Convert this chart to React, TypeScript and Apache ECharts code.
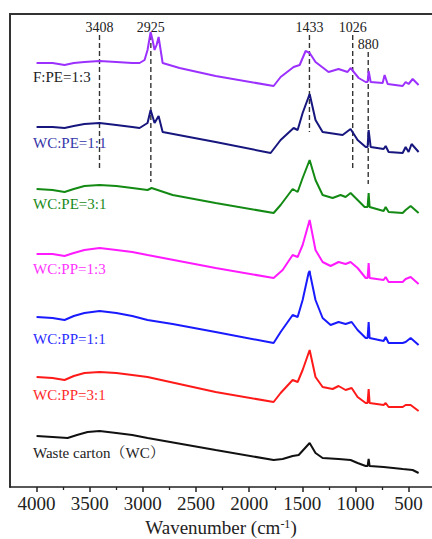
import React, { useEffect, useRef } from "react";
import * as echarts from "echarts";

const SERIF =
  '"Liberation Serif", "Times New Roman", "Noto Serif CJK SC", "Noto Sans CJK SC", serif';

// x axis tick labels (wavenumber, cm-1)
const xTickLabels = [4000, 3500, 3000, 2500, 2000, 1500, 1000, 500];
const xMinorTicks = [3750, 3250, 2750, 2250, 1750, 1250, 750];

// marked absorption bands
const peakMarks = [3408, 2925, 1433, 1026, 880];
const peakTop = [452, 452, 452, 452, 435];
const peakBottom = [317, 305, 355, 317, 303];

// spectra: [wavenumber, offset intensity]
const fPE13 = [
  [4000, 424], [3850, 424], [3737, 422], [3650, 424], [3550, 425], [3407, 426],
  [3250, 425], [3100, 424], [3031, 424], [2984, 427], [2956, 437],
  [2927, 455], [2909, 447], [2890, 437], [2871, 442], [2852, 450], [2833, 437],
  [2814, 424], [2655, 419], [2316, 411], [1770, 401], [1704, 410], [1582, 420],
  [1525, 422], [1469, 436], [1431, 434], [1376, 425], [1253, 415], [1159, 418],
  [1074, 415], [1046, 419], [970, 409], [904, 405], [886, 405], [876, 416],
  [857, 405], [744, 404], [726, 412], [697, 403], [556, 401], [528, 405],
  [500, 403], [462, 408], [406, 402],
];
const wcPE11 = [
  [4000, 360], [3850, 360], [3737, 359], [3650, 361], [3550, 363], [3407, 364],
  [3250, 362], [3100, 360], [3031, 359], [2956, 364],
  [2927, 377], [2890, 364], [2852, 371], [2814, 355], [2316, 345], [1798, 334],
  [1704, 347], [1582, 359], [1544, 357], [1497, 374], [1431, 393], [1376, 367],
  [1309, 355], [1121, 352], [1046, 358], [980, 347], [904, 340], [886, 340],
  [876, 357], [857, 340], [735, 338], [716, 341], [688, 335], [556, 334],
  [528, 340], [500, 335], [472, 343], [406, 335],
];
const wcPE31 = [
  [4000, 298], [3850, 297], [3737, 295], [3650, 298], [3550, 301], [3407, 302],
  [3250, 301], [3100, 299], [2956, 297], [2918, 299], [2720, 292],
  [2316, 284], [1770, 274], [1704, 282], [1591, 298], [1544, 295], [1497, 309],
  [1431, 327], [1376, 307], [1309, 292], [1215, 289], [1140, 292], [1093, 290],
  [1046, 294], [980, 287], [914, 280], [886, 280], [876, 294], [867, 280],
  [735, 276], [716, 280], [688, 275], [556, 274], [528, 277], [481, 281],
  [406, 274],
];
const wcPP13 = [
  [4000, 233], [3850, 233], [3737, 231], [3650, 234], [3550, 237], [3407, 239],
  [3250, 237], [3100, 235], [2956, 232], [2316, 219], [1770, 209],
  [1685, 217], [1591, 232], [1544, 230], [1497, 242], [1431, 267], [1376, 237],
  [1309, 225], [1234, 221], [1159, 225], [1093, 223], [1046, 225], [980, 219],
  [904, 209], [886, 209], [876, 224], [867, 209], [735, 207], [716, 210],
  [688, 205], [556, 205], [528, 208], [481, 210], [406, 203],
];
const wcPP11 = [
  [4000, 170], [3850, 169], [3737, 167], [3650, 171], [3550, 174], [3407, 176],
  [3250, 174], [3100, 171], [2956, 167], [2720, 163], [2316, 155],
  [1770, 144], [1704, 155], [1591, 172], [1544, 170], [1497, 187], [1441, 214],
  [1431, 216], [1425, 212], [1376, 187], [1309, 169], [1234, 162], [1159, 165],
  [1093, 163], [1036, 165], [980, 157], [904, 149], [886, 149], [876, 165],
  [867, 149], [735, 146], [716, 150], [688, 144], [556, 144], [528, 145],
  [481, 149], [406, 142],
];
const wcPP31 = [
  [4000, 110], [3850, 109], [3737, 107], [3650, 111], [3550, 114], [3407, 115],
  [3250, 114], [3100, 112], [2956, 110], [2316, 95], [1770, 85],
  [1704, 94], [1591, 107], [1544, 105], [1497, 117], [1431, 137], [1376, 110],
  [1309, 100], [1215, 98], [1159, 101], [1093, 97], [1036, 99], [980, 90],
  [904, 84], [886, 84], [876, 98], [867, 84], [735, 82], [716, 84], [688, 80],
  [556, 80], [528, 82], [481, 82], [406, 76],
];
const wasteCarton = [
  [4000, 51], [3850, 50], [3708, 49], [3620, 52], [3520, 55], [3407, 56],
  [3250, 54], [3100, 52], [2956, 49], [2316, 37], [1770, 27],
  [1685, 28], [1591, 31], [1534, 32], [1431, 44], [1376, 34], [1309, 29],
  [1159, 28], [1046, 27], [980, 24], [904, 21], [886, 21], [876, 28], [867, 21],
  [735, 20], [556, 18], [462, 17], [406, 14],
];

const seriesNames = [
  "F:PE=1:3",
  "WC:PE=1:1",
  "WC:PE=3:1",
  "WC:PP=1:3",
  "WC:PP=1:1",
  "WC:PP=3:1",
  "Waste carton（WC）",
];
const seriesData = [fPE13, wcPE11, wcPE31, wcPP13, wcPP11, wcPP31, wasteCarton];
const lineColors = ["#9b30ff", "#16167e", "#138a13", "#ff1aff", "#1a1aff", "#ff1a1a", "#111111"];
const labelColors = ["#222222", "#3535a8", "#1a8a1a", "#ff33ff", "#2a2aff", "#ff2a2a", "#222222"];
const labelY = [77, 143, 204, 269, 339, 395, 453];

export default function App() {
  const ref = useRef<HTMLDivElement>(null);

  useEffect(() => {
    if (!ref.current) return;
    const chart = echarts.init(ref.current, null, { renderer: "svg" });

    const curveSeries = seriesData.map((d, i) => ({
      name: seriesNames[i],
      type: "line",
      xAxisIndex: 0,
      data: d,
      symbol: "none",
      smooth: false,
      lineStyle: { color: lineColors[i], width: 2 },
      z: 3,
      silent: true,
    }));

    const peakSeries = peakMarks.map((wn, i) => ({
      type: "line",
      xAxisIndex: 0,
      data: [
        {
          value: [wn, peakTop[i]],
          label: {
            show: true,
            position: "top",
            distance: 1,
            formatter: String(wn),
            fontFamily: SERIF,
            fontSize: 14,
            color: "#222",
          },
        },
        { value: [wn, peakBottom[i]] },
      ],
      symbol: "circle",
      symbolSize: 0,
      showSymbol: true,
      lineStyle: { color: "#333", width: 1.4, type: [5, 3] },
      itemStyle: { color: "#333" },
      z: 2,
      silent: true,
    }));

    const baseX = {
      type: "value",
      inverse: true,
      min: 280,
      max: 4250,
      position: "bottom",
      splitLine: { show: false },
    };

    chart.setOption({
      animation: false,
      backgroundColor: "#ffffff",
      grid: {
        left: 10,
        top: 14,
        width: 422,
        height: 473,
        outerBoundsMode: "none",
        containLabel: false,
      },
      xAxis: [
        {
          ...baseX,
          axisLine: { show: true, onZero: false, lineStyle: { color: "#222", width: 1.5 } },
          axisTick: {
            show: true,
            customValues: xTickLabels,
            length: 5,
            lineStyle: { color: "#222", width: 1.5 },
          },
          axisLabel: {
            show: true,
            customValues: xTickLabels,
            formatter: (v: number) => String(v),
            fontFamily: SERIF,
            fontSize: 19,
            color: "#222",
            margin: 7,
          },
          name: "{a|Wavenumber (cm}{s|-1}{a|)}",
          nameLocation: "middle",
          nameGap: 30,
          nameTextStyle: {
            verticalAlign: "top",
            rich: {
              a: { fontFamily: SERIF, fontSize: 19, color: "#222", lineHeight: 19, verticalAlign: "bottom" },
              s: { fontFamily: SERIF, fontSize: 12, color: "#222", lineHeight: 11, verticalAlign: "top" },
            },
          },
        },
        {
          ...baseX,
          axisLine: { show: false, onZero: false },
          axisTick: {
            show: true,
            customValues: xMinorTicks,
            length: 3,
            lineStyle: { color: "#222", width: 1.3 },
          },
          axisLabel: { show: false },
        },
      ],
      yAxis: {
        type: "value",
        min: 0,
        max: 473,
        axisLine: { show: true, onZero: false, lineStyle: { color: "#333", width: 2 } },
        axisTick: { show: false },
        axisLabel: { show: false },
        splitLine: { show: false },
      },
      graphic: [
        {
          type: "line",
          shape: { x1: 9, y1: 14, x2: 432, y2: 14 },
          style: { stroke: "#333", lineWidth: 2 },
          z: 10,
        },
        ...seriesNames.map((n, i) => ({
          type: "text",
          x: 33,
          y: labelY[i],
          style: {
            text: n,
            fill: labelColors[i],
            font: `15px ${SERIF}`,
            verticalAlign: "middle",
            align: "left",
          },
          z: 10,
        })),
      ],
      series: [...peakSeries, ...curveSeries],
    });

    return () => {
      chart.dispose();
    };
  }, []);

  return (
    <div
      ref={ref}
      style={{ position: "fixed", left: 0, top: 0, width: 432, height: 539, background: "#fff" }}
    />
  );
}
